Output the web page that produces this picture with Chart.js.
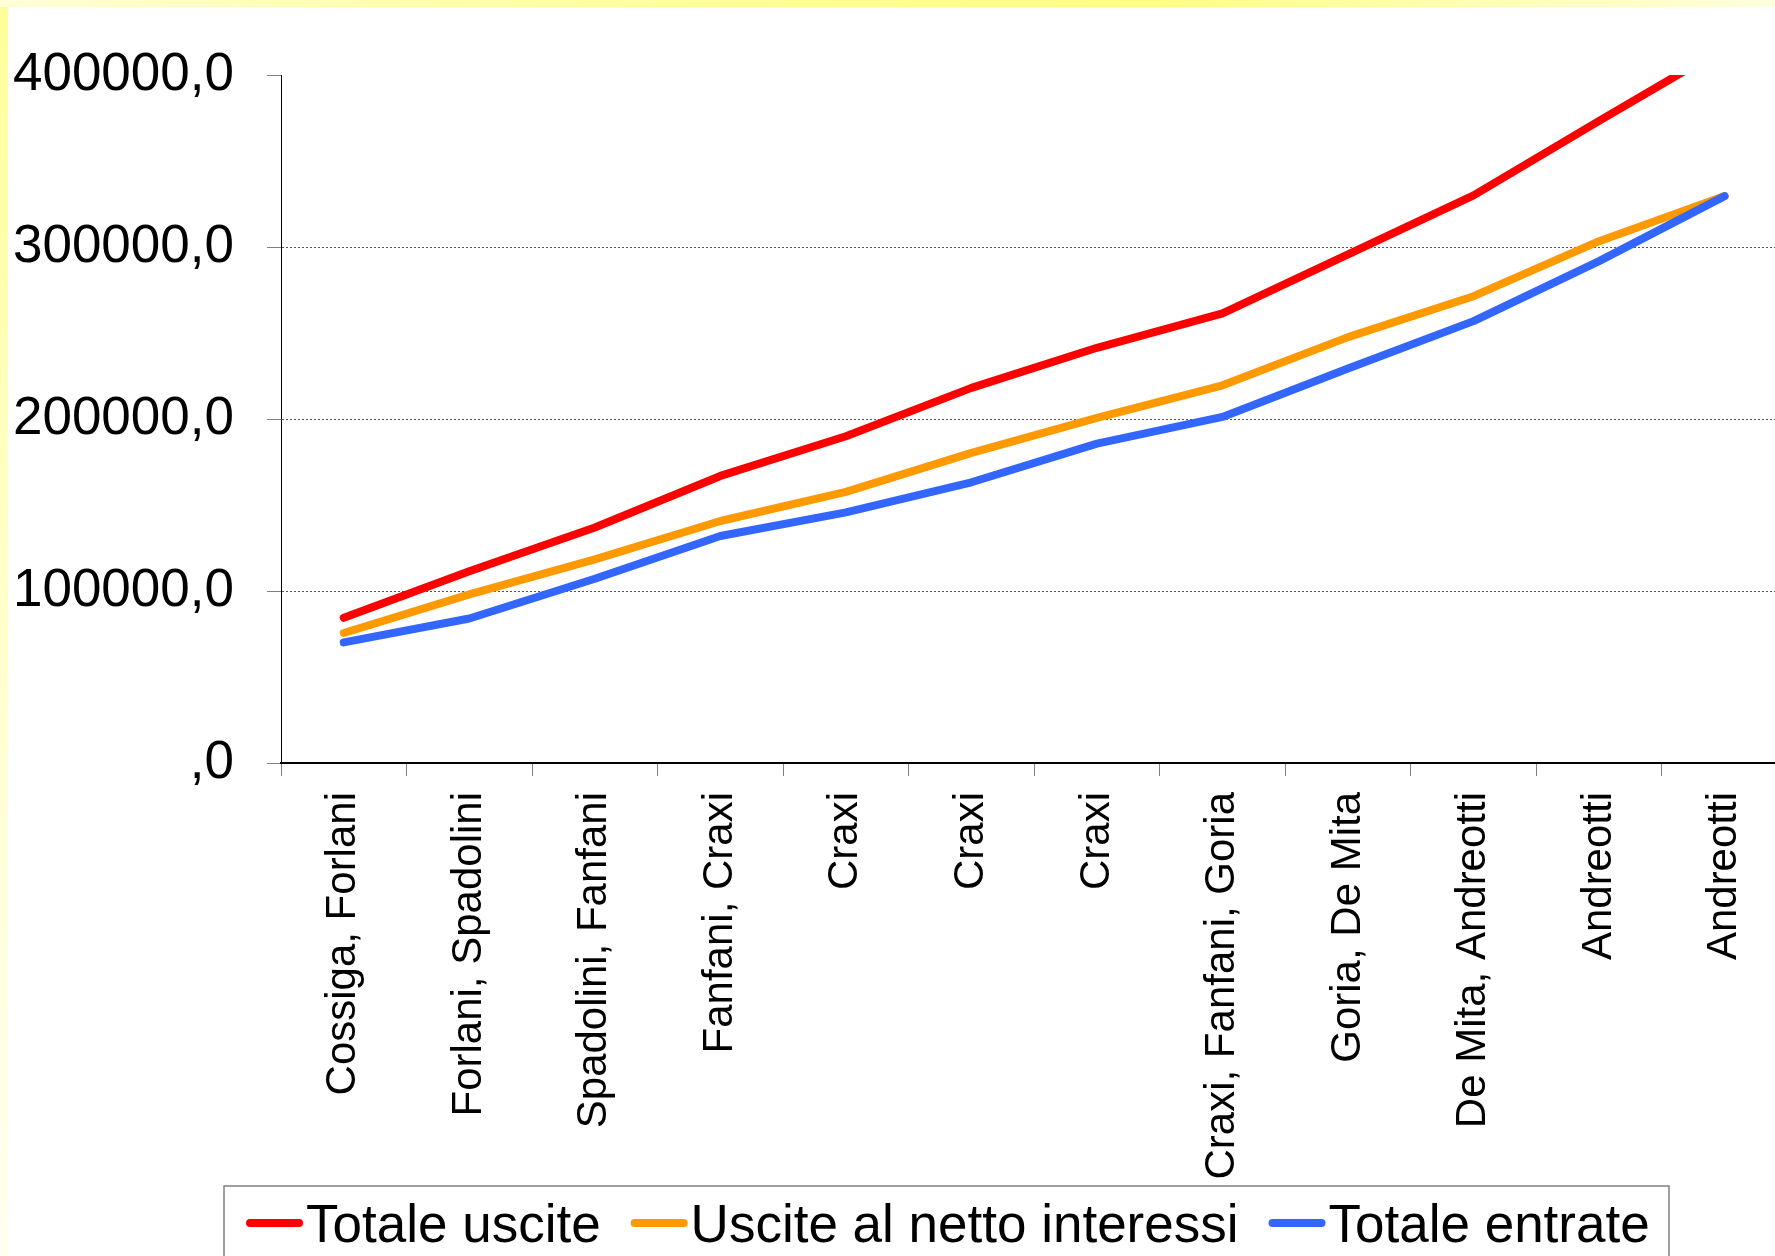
<!DOCTYPE html>
<html>
<head>
<meta charset="utf-8">
<script src="https://cdn.jsdelivr.net/npm/chart.js@4/dist/chart.umd.min.js"></script>
<style>
  html, body { margin: 0; padding: 0; overflow: hidden; background: #ffffff; }
  #wrap { position: relative; width: 1775px; height: 1256px; overflow: hidden; background: #ffffff; }
  #chart { position: absolute; left: 0; top: 0; }
  .band-top {
    position: absolute; left: 0; top: 0; width: 1775px; height: 7px;
    background: linear-gradient(to right, #ffffd8 0%, #ffffb0 20%, #ffff90 45%, #ffff80 65%, #ffffb8 85%, #ffffdc 100%);
  }
  .band-left {
    position: absolute; left: 0; top: 0; width: 8px; height: 1256px;
    background: linear-gradient(to bottom, #ffff99 0%, #ffffbe 35%, #ffffdc 70%, #fffff0 100%);
  }
</style>
</head>
<body>
<div id="wrap">
  <canvas id="chart" width="1791" height="1256"></canvas>
  <div class="band-left"></div>
  <div class="band-top"></div>
</div>
<script>
// Governments in office for each year (category axis)
const categories = [
  'Cossiga, Forlani',
  'Forlani, Spadolini',
  'Spadolini, Fanfani',
  'Fanfani, Craxi',
  'Craxi',
  'Craxi',
  'Craxi',
  'Craxi, Fanfani, Goria',
  'Goria, De Mita',
  'De Mita, Andreotti',
  'Andreotti',
  'Andreotti'
];

// Series values
const totaleUscite = [84400, 111500, 136900, 166900, 190000, 218100, 241400, 261400, 295700, 330000, 373300, 416000];
const usciteNettoInteressi = [75600, 98000, 118400, 140700, 157600, 180300, 200600, 219600, 247600, 271400, 303400, 329600];
const totaleEntrate = [70100, 84000, 107100, 132000, 145700, 163200, 185700, 201200, 229300, 256900, 291800, 329600];

// Value axis labels, one per 100000 step
const yTickLabels = [',0', '100000,0', '200000,0', '300000,0', '400000,0'];

const FONT = "'Liberation Sans', Arial, Helvetica, sans-serif";

// Legend drawn inside a framed box under the chart
const boxedLegend = {
  id: 'boxedLegend',
  afterDraw(chart, args, opts) {
    const ctx = chart.ctx;
    ctx.save();
    ctx.font = opts.fontSize + 'px ' + FONT;
    ctx.textBaseline = 'alphabetic';
    ctx.textAlign = 'left';
    let x = opts.left + opts.inset;
    chart.data.datasets.forEach(ds => {
      const w = ds.borderWidth;
      ctx.strokeStyle = ds.borderColor;
      ctx.lineWidth = w;
      ctx.lineCap = 'round';
      ctx.beginPath();
      ctx.moveTo(x + w / 2, opts.lineY);
      ctx.lineTo(x + opts.swatch - w / 2, opts.lineY);
      ctx.stroke();
      x += opts.swatch + opts.textGap;
      ctx.fillStyle = '#000000';
      ctx.fillText(ds.label, x, opts.baseline);
      x += ctx.measureText(ds.label).width + opts.itemGap;
    });
    ctx.strokeStyle = '#808080';
    ctx.lineWidth = 1.5;
    ctx.strokeRect(opts.left, opts.top, opts.width, opts.height);
    ctx.restore();
  }
};

const lineStyle = {
  borderWidth: 8,
  pointRadius: 0,
  pointHoverRadius: 0,
  tension: 0,
  fill: false,
  borderCapStyle: 'round',
  borderJoinStyle: 'round',
  clip: { left: 10, top: 0, right: 10, bottom: 10 }
};

new Chart(document.getElementById('chart'), {
  type: 'line',
  data: {
    labels: categories,
    datasets: [
      Object.assign({ label: 'Totale uscite', data: totaleUscite, borderColor: '#ff0000', backgroundColor: '#ff0000', order: 2 }, lineStyle),
      Object.assign({ label: 'Uscite al netto interessi', data: usciteNettoInteressi, borderColor: '#ff9900', backgroundColor: '#ff9900', order: 1 }, lineStyle),
      Object.assign({ label: 'Totale entrate', data: totaleEntrate, borderColor: '#3366ff', backgroundColor: '#3366ff', order: 0 }, lineStyle)
    ]
  },
  options: {
    responsive: false,
    animation: false,
    devicePixelRatio: 1,
    layout: { padding: { top: 75, left: 0, right: 0, bottom: 0 } },
    plugins: {
      legend: { display: false },
      tooltip: { enabled: false },
      boxedLegend: {
        left: 224, top: 1186, width: 1445, height: 120,
        inset: 22, swatch: 57, textGap: 3, itemGap: 30,
        lineY: 1223, baseline: 1242, fontSize: 53
      }
    },
    scales: {
      x: {
        type: 'category',
        offset: true,
        grid: {
          offset: true,
          drawOnChartArea: false,
          drawTicks: true,
          tickLength: 13,
          tickColor: '#808080',
          tickWidth: 1
        },
        border: { display: true, color: '#000000', width: 2 },
        ticks: {
          autoSkip: false,
          maxRotation: 90,
          minRotation: 90,
          padding: 16,
          color: '#000000',
          font: { family: FONT, size: 42 }
        },
        afterFit(scale) { scale.height = 493; }
      },
      y: {
        min: 0,
        max: 400000,
        grid: {
          drawOnChartArea: true,
          drawTicks: true,
          tickLength: 14,
          tickColor: '#808080',
          tickWidth: 1,
          tickBorderDash: [],
          lineWidth: 1,
          color: c => (c.tick && (c.tick.value === 0 || c.tick.value === 400000)) ? 'rgba(0,0,0,0)' : '#555555'
        },
        border: { display: true, color: '#000000', width: 1, dash: [2, 2] },
        ticks: {
          stepSize: 100000,
          padding: 33,
          color: '#000000',
          font: { family: FONT, size: 53 },
          callback: (value, index) => yTickLabels[index]
        },
        afterFit(scale) { scale.width = 281; }
      }
    }
  },
  plugins: [boxedLegend]
});
</script>
</body>
</html>
